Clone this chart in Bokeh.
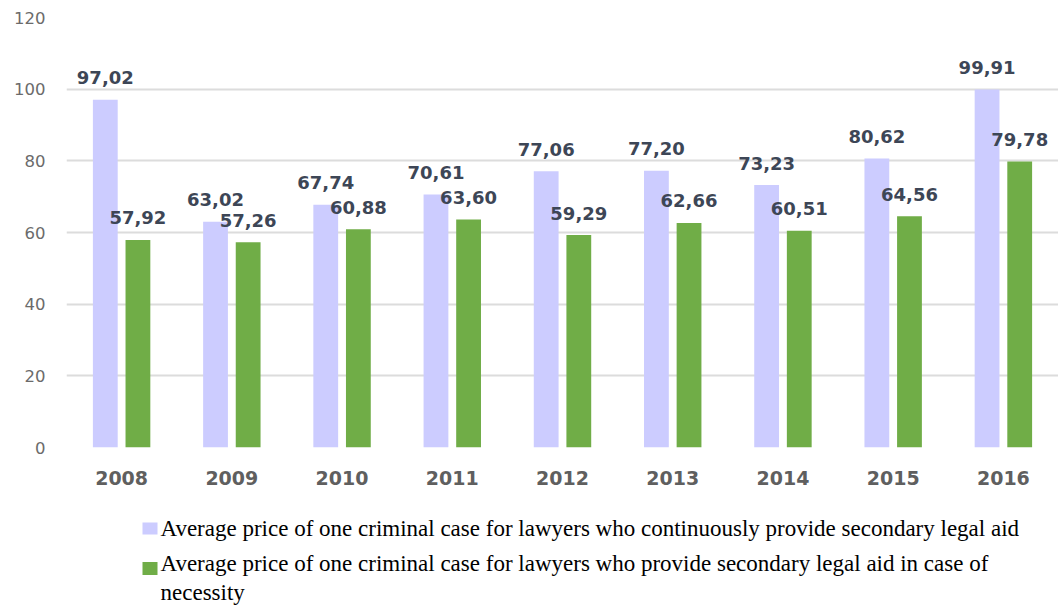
from bokeh.plotting import figure
from bokeh.models import ColumnDataSource, Range1d, FixedTicker
from bokeh.layouts import column
from bokeh.core.properties import value
from bokeh.embed import file_html
from bokeh.resources import INLINE

years = ["2008", "2009", "2010", "2011", "2012", "2013", "2014", "2015", "2016"]
continuous = [97.02, 63.02, 67.74, 70.61, 77.06, 77.20, 73.23, 80.62, 99.91]
necessity = [57.92, 57.26, 60.88, 63.60, 59.29, 62.66, 60.51, 64.56, 79.78]
y_ticks = [0, 20, 40, 60, 80, 100, 120]
legend_labels = [
    "Average price of one criminal case for lawyers who continuously provide secondary legal aid",
    "Average price of one criminal case for lawyers who provide secondary legal aid in case of",
    "necessity",
]

C1 = "#ccccff"
C2 = "#70ad47"
LBL = "#3d4656"

idx = list(range(len(years)))
fmt = lambda v: f"{v:.2f}".replace(".", ",")

src = ColumnDataSource(dict(
    x1=[i - 0.148 for i in idx],
    x2=[i + 0.148 for i in idx],
    c=continuous,
    n=necessity,
    cl=[fmt(v) for v in continuous],
    nl=[fmt(v) for v in necessity],
))

p = figure(width=1058, height=508, output_backend="svg", toolbar_location=None,
           x_range=Range1d(-0.5, 8.5), y_range=Range1d(0, 120),
           min_border_left=66, min_border_right=0, min_border_top=17, min_border_bottom=61)
p.outline_line_color = None
p.background_fill_color = "white"

p.vbar(x="x1", top="c", width=0.225, source=src, color=C1, line_color=None)
p.vbar(x="x2", top="n", width=0.225, source=src, color=C2, line_color=None)

p.text(x="x1", y="c", text="cl", source=src, text_align="center", text_baseline="middle",
       y_offset=-22, text_font=value("DejaVu Sans"), text_font_style="bold",
       text_font_size="18px", text_color=LBL)
p.text(x="x2", y="n", text="nl", source=src, text_align="center", text_baseline="middle",
       y_offset=-22, text_font=value("DejaVu Sans"), text_font_style="bold",
       text_font_size="18px", text_color=LBL)

p.xaxis.ticker = FixedTicker(ticks=idx)
p.xaxis.major_label_overrides = {i: y for i, y in zip(idx, years)}
p.yaxis.ticker = FixedTicker(ticks=y_ticks)
for ax in (p.xaxis, p.yaxis):
    ax.axis_line_color = None
    ax.major_tick_line_color = None
    ax.minor_tick_line_color = None
    ax.major_tick_out = 0
    ax.major_tick_in = 0
    ax.minor_tick_out = 0
    ax.major_label_text_font = "DejaVu Sans"
p.xaxis.major_label_text_font_style = "bold"
p.xaxis.major_label_text_font_size = "19px"
p.xaxis.major_label_text_color = "#5f5f5f"
p.xaxis.major_label_standoff = 23
p.yaxis.major_label_text_font_size = "16.5px"
p.yaxis.major_label_text_color = "#6b6b6b"
p.yaxis.major_label_standoff = 21

p.xgrid.grid_line_color = None
p.ygrid.grid_line_color = "#dcdcdc"
p.ygrid.grid_line_width = 2

# legend panel: its frame is aligned with the chart frame (66px .. right edge),
# so the x range is set to pixel positions of that frame
lg = figure(width=1058, height=100, output_backend="svg", toolbar_location=None,
            x_range=Range1d(66, 1058), y_range=Range1d(100, 0),
            x_axis_location=None, y_axis_location=None,
            min_border=0, min_border_left=66, min_border_right=0,
            min_border_top=0, min_border_bottom=0)
lg.grid.grid_line_color = None
lg.outline_line_color = None

lg.rect(x=[149.5], y=[20], width=15, height=12, color=C1, line_color=None)
lg.rect(x=[149.5], y=[60], width=15, height=13, color=C2, line_color=None)
lg.text(x=[160, 160, 160], y=[20, 55, 84], text=legend_labels,
        text_font=value("Liberation Serif"), text_font_size="23px",
        text_baseline="middle", text_align="left", text_color="#000000")

layout = column(p, lg, spacing=0)
open("out.html", "w").write(file_html(layout, INLINE))
